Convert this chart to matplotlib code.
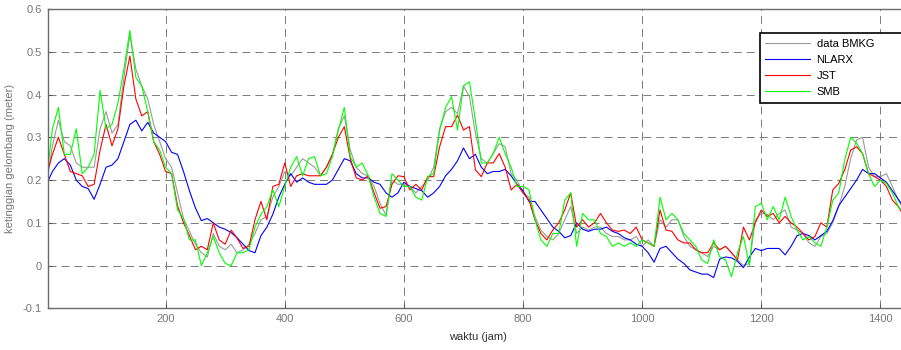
import numpy as np
import matplotlib
matplotlib.use("Agg")
import matplotlib.pyplot as plt

plt.rcParams['font.family'] = ['Liberation Sans', 'DejaVu Sans']

# jam 0..1440, tiap 10 jam
jam = np.arange(0, 1441, 10)

bmkg = [0.19, 0.28, 0.34, 0.29, 0.28, 0.24, 0.23, 0.23, 0.23, 0.32,
        0.36, 0.31, 0.33, 0.44, 0.54, 0.46, 0.42, 0.39, 0.33, 0.29,
        0.25, 0.23, 0.17, 0.11, 0.08, 0.05, 0.03, 0.02, 0.075, 0.045,
        0.037, 0.05, 0.03, 0.037, 0.05, 0.075, 0.107, 0.115, 0.16, 0.185,
        0.22, 0.21, 0.23, 0.25, 0.24, 0.23, 0.21, 0.23, 0.26, 0.32,
        0.35, 0.27, 0.23, 0.215, 0.21, 0.185, 0.145, 0.118, 0.2, 0.19,
        0.19, 0.185, 0.17, 0.185, 0.2, 0.23, 0.32, 0.36, 0.37, 0.355,
        0.42, 0.395, 0.31, 0.25, 0.24, 0.262, 0.285, 0.278, 0.215, 0.2,
        0.17, 0.16, 0.115, 0.083, 0.068, 0.06, 0.075, 0.107, 0.138, 0.075,
        0.09, 0.083, 0.09, 0.09, 0.075, 0.068, 0.068, 0.06, 0.06, 0.068,
        0.045, 0.06, 0.045, 0.107, 0.09, 0.107, 0.107, 0.068, 0.045, 0.037,
        0.03, 0.021, 0.045, 0.037, 0.045, 0.03, 0.013, 0.0, 0.005, 0.107,
        0.122, 0.12, 0.107, 0.122, 0.13, 0.09, 0.083, 0.075, 0.053, 0.045,
        0.068, 0.075, 0.1, 0.138, 0.185, 0.25, 0.294, 0.3, 0.23, 0.208,
        0.208, 0.215, 0.185, 0.153, 0.13]

nlarx = [0.19, 0.22, 0.24, 0.25, 0.235, 0.2, 0.185, 0.18, 0.155, 0.19,
         0.23, 0.235, 0.25, 0.29, 0.33, 0.34, 0.315, 0.335, 0.31, 0.3,
         0.29, 0.265, 0.26, 0.22, 0.175, 0.135, 0.105, 0.11, 0.1, 0.09,
         0.085, 0.077, 0.065, 0.05, 0.035, 0.03, 0.07, 0.09, 0.12, 0.16,
         0.19, 0.215, 0.195, 0.205, 0.195, 0.19, 0.19, 0.19, 0.2, 0.225,
         0.25, 0.245, 0.215, 0.205, 0.205, 0.195, 0.19, 0.17, 0.16, 0.17,
         0.195, 0.185, 0.18, 0.175, 0.16, 0.17, 0.185, 0.21, 0.225, 0.245,
         0.275, 0.25, 0.26, 0.23, 0.215, 0.22, 0.22, 0.225, 0.21, 0.19,
         0.175, 0.15, 0.15, 0.13, 0.11, 0.09, 0.08, 0.065, 0.07, 0.1,
         0.085, 0.08, 0.085, 0.085, 0.09, 0.08, 0.075, 0.065, 0.06, 0.05,
         0.045, 0.03, 0.008, 0.04, 0.045, 0.03, 0.015, 0.005, -0.01, -0.015,
         -0.02, -0.02, -0.028, 0.015, 0.02, 0.018, 0.01, -0.005, 0.02, 0.04,
         0.035, 0.04, 0.04, 0.04, 0.025, 0.045, 0.07, 0.075, 0.07, 0.06,
         0.07, 0.08, 0.105, 0.14, 0.16, 0.18, 0.2, 0.225, 0.215, 0.215,
         0.205, 0.195, 0.175, 0.155, 0.135]

jst = [0.21, 0.26, 0.3, 0.26, 0.22, 0.215, 0.21, 0.185, 0.19, 0.27,
       0.33, 0.28, 0.32, 0.42, 0.49, 0.39, 0.35, 0.36, 0.29, 0.26,
       0.22, 0.215, 0.14, 0.1, 0.07, 0.037, 0.045, 0.037, 0.1, 0.06,
       0.05, 0.083, 0.064, 0.04, 0.045, 0.107, 0.15, 0.107, 0.185, 0.19,
       0.24, 0.185, 0.21, 0.215, 0.21, 0.21, 0.21, 0.23, 0.26, 0.3,
       0.325, 0.25, 0.205, 0.2, 0.21, 0.17, 0.134, 0.138, 0.19, 0.21,
       0.208, 0.177, 0.19, 0.177, 0.208, 0.208, 0.278, 0.325, 0.325, 0.352,
       0.317, 0.325, 0.224, 0.208, 0.24, 0.24, 0.262, 0.23, 0.177, 0.19,
       0.17, 0.153, 0.107, 0.075, 0.06, 0.083, 0.1, 0.13, 0.17, 0.09,
       0.107, 0.09, 0.1, 0.122, 0.1, 0.083, 0.08, 0.083, 0.075, 0.09,
       0.06, 0.053, 0.045, 0.13, 0.083, 0.08, 0.06, 0.053, 0.053, 0.037,
       0.03, 0.03, 0.053, 0.037, 0.045, 0.03, 0.013, 0.09, 0.06, 0.1,
       0.13, 0.115, 0.122, 0.1, 0.115, 0.1, 0.09, 0.075, 0.06, 0.068,
       0.1, 0.09, 0.177, 0.192, 0.224, 0.27, 0.278, 0.262, 0.215, 0.208,
       0.2, 0.185, 0.153, 0.138, 0.115]

smb = [0.2, 0.32, 0.37, 0.26, 0.26, 0.32, 0.215, 0.23, 0.26, 0.41,
       0.32, 0.33, 0.38, 0.46, 0.55, 0.44, 0.42, 0.36, 0.29, 0.27,
       0.23, 0.215, 0.13, 0.11, 0.06, 0.06, 0.0, 0.03, 0.068, 0.03,
       0.005, 0.0, 0.03, 0.03, 0.037, 0.09, 0.12, 0.138, 0.177, 0.138,
       0.185, 0.23, 0.255, 0.21, 0.25, 0.255, 0.21, 0.215, 0.255, 0.317,
       0.37, 0.255, 0.23, 0.24, 0.21, 0.16, 0.122, 0.115, 0.215, 0.2,
       0.185, 0.185, 0.16, 0.153, 0.208, 0.215, 0.317, 0.37, 0.395, 0.317,
       0.42, 0.43, 0.34, 0.24, 0.24, 0.262, 0.3, 0.262, 0.23, 0.185,
       0.185, 0.177, 0.107, 0.06, 0.045, 0.075, 0.075, 0.153, 0.17, 0.045,
       0.122, 0.107, 0.107, 0.075, 0.068, 0.045, 0.053, 0.045, 0.053, 0.045,
       0.06, 0.053, 0.045, 0.16, 0.107, 0.122, 0.107, 0.075, 0.06, 0.045,
       0.013, 0.005, 0.06, 0.021, 0.013, -0.026, 0.03, 0.068, 0.0, 0.138,
       0.146, 0.107, 0.138, 0.107, 0.16, 0.115, 0.083, 0.06, 0.068, 0.053,
       0.045, 0.09, 0.153, 0.17, 0.247, 0.3, 0.286, 0.262, 0.215, 0.185,
       0.2, 0.192, 0.17, 0.138, 0.122]

yticks = [-0.1, 0, 0.1, 0.2, 0.3, 0.4, 0.5, 0.6]
ytick_labels = ['-0.1', '0', '0.1', '0.2', '0.3', '0.4', '0.5', '0.6']
xticks = [200, 400, 600, 800, 1000, 1200, 1400]

fig = plt.figure(figsize=(9.01, 3.5), dpi=100)
ax = fig.add_axes([0.0529, 0.1191, 0.9547, 0.8551])

ax.plot(jam, bmkg, color='#9a9a9a', lw=0.8, label='data BMKG')
ax.plot(jam, nlarx, color='#0000ff', lw=0.8, label='NLARX')
ax.plot(jam, jst, color='#ff0000', lw=0.8, label='JST')
ax.plot(jam, smb, color='#00ff00', lw=0.8, label='SMB')

ax.set_xlim(2, 1446)
ax.set_ylim(-0.1, 0.6)
ax.set_xticks(xticks)
ax.set_xticklabels([str(x) for x in xticks])
ax.set_yticks(yticks)
ax.set_yticklabels(ytick_labels)

ax.grid(True, color='#7a7a7a', linestyle=(0, (8.2, 5.1)), linewidth=0.7)
ax.tick_params(direction='in', length=3, labelsize=8, colors='#555555',
               labelcolor='#777777', pad=4)
for s in ax.spines.values():
    s.set_color('#6a6a6a')
    s.set_linewidth(1.0)

ax.set_xlabel('waktu (jam)', fontsize=8, color='#333333', labelpad=6)
ax.set_ylabel('ketinggian gelombang (meter)', fontsize=8, color='#777777', labelpad=6)

leg = ax.legend(loc='upper left', bbox_to_anchor=(0.828, 0.685, 0.25, 0.234),
                mode='expand', borderaxespad=0, fontsize=8, handlelength=4,
                handletextpad=0.6, labelspacing=0.55, fancybox=False,
                framealpha=1, borderpad=0.5)
leg.get_frame().set_edgecolor('black')
leg.get_frame().set_linewidth(1.2)

fig.savefig('out.png', dpi=100)
